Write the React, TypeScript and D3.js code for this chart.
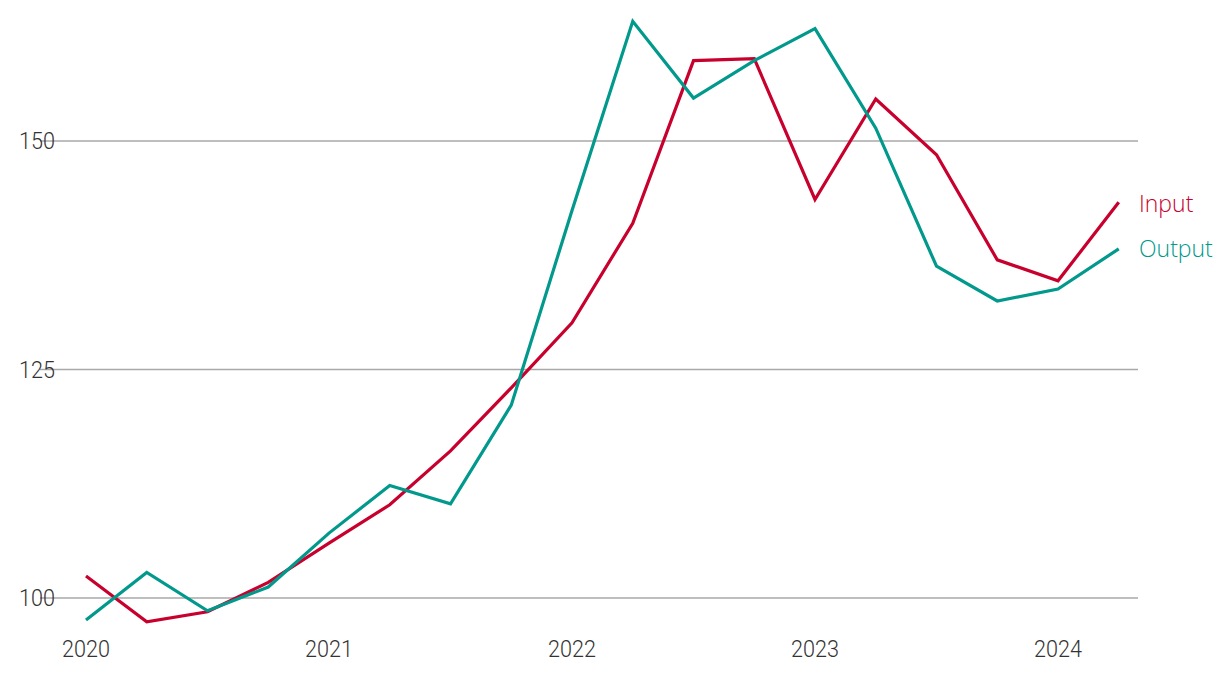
import React from "react";
import * as d3 from "d3";

const quarters: number[] = [
  2020, 2020.25, 2020.5, 2020.75,
  2021, 2021.25, 2021.5, 2021.75,
  2022, 2022.25, 2022.5, 2022.75,
  2023, 2023.25, 2023.5, 2023.75,
  2024, 2024.25,
];
const inputValues: number[] = [
  102.4, 97.4, 98.5, 101.7, 106.0, 110.2, 116.1, 123.0, 130.1, 141.0,
  158.8, 159.0, 143.6, 154.6, 148.5, 137.0, 134.7, 143.3,
];
const outputValues: number[] = [
  97.6, 102.8, 98.6, 101.2, 107.1, 112.3, 110.3, 121.1, 142.4, 163.1,
  154.7, 158.8, 162.3, 151.4, 136.3, 132.5, 133.8, 138.2,
];
const yTicks: number[] = [100, 125, 150];
const xTicks: number[] = [2020, 2021, 2022, 2023, 2024];
const seriesNames: string[] = ["Input", "Output"];

const W = 1220;
const H = 684;
const RED = "#c8002d";
const TEAL = "#00998c";

export default function App() {
  const x = d3.scaleLinear().domain([2020, 2024]).range([86, 1058]);
  const y = d3.scaleLinear().domain([100, 150]).range([598, 141]);
  const line = d3
    .line<number>()
    .x((_, i) => x(quarters[i]))
    .y((d) => y(d));
  const series = [
    { name: seriesNames[0], values: inputValues, color: RED },
    { name: seriesNames[1], values: outputValues, color: TEAL },
  ];
  const tickFont = "Roboto, sans-serif";
  const sx = 0.9;
  return (
    <svg
      width={W}
      height={H}
      style={{ position: "absolute", left: 0, top: 0, background: "#fff" }}
    >
      {yTicks.map((t) => (
        <g key={t}>
          <line x1={40} x2={1138} y1={y(t)} y2={y(t)} stroke="#a8a8a8" strokeWidth={1.5} />
          <text
            transform={`translate(55,${y(t)}) scale(${sx},1)`}
            dy="0.35em"
            textAnchor="end"
            fontFamily={tickFont}
            fontWeight={300}
            fontSize={24}
            fill="#333"
          >
            {t}
          </text>
        </g>
      ))}
      {xTicks.map((t) => (
        <text
          key={t}
          transform={`translate(${x(t)},657) scale(${sx},1)`}
          textAnchor="middle"
          fontFamily={tickFont}
          fontWeight={300}
          fontSize={24}
          fill="#333"
        >
          {t}
        </text>
      ))}
      {series.map((s) => (
        <path
          key={s.name}
          d={line(s.values) || ""}
          fill="none"
          stroke={s.color}
          strokeWidth={3.2}
          strokeLinejoin="miter"
        />
      ))}
      {series.map((s, i) => (
        <text
          key={s.name + "-label"}
          x={1139}
          y={i === 0 ? 212 : 257}
          fontFamily="'Open Sans', sans-serif"
          fontWeight={300}
          fontSize={23}
          fill={s.color}
        >
          {s.name}
        </text>
      ))}
    </svg>
  );
}
